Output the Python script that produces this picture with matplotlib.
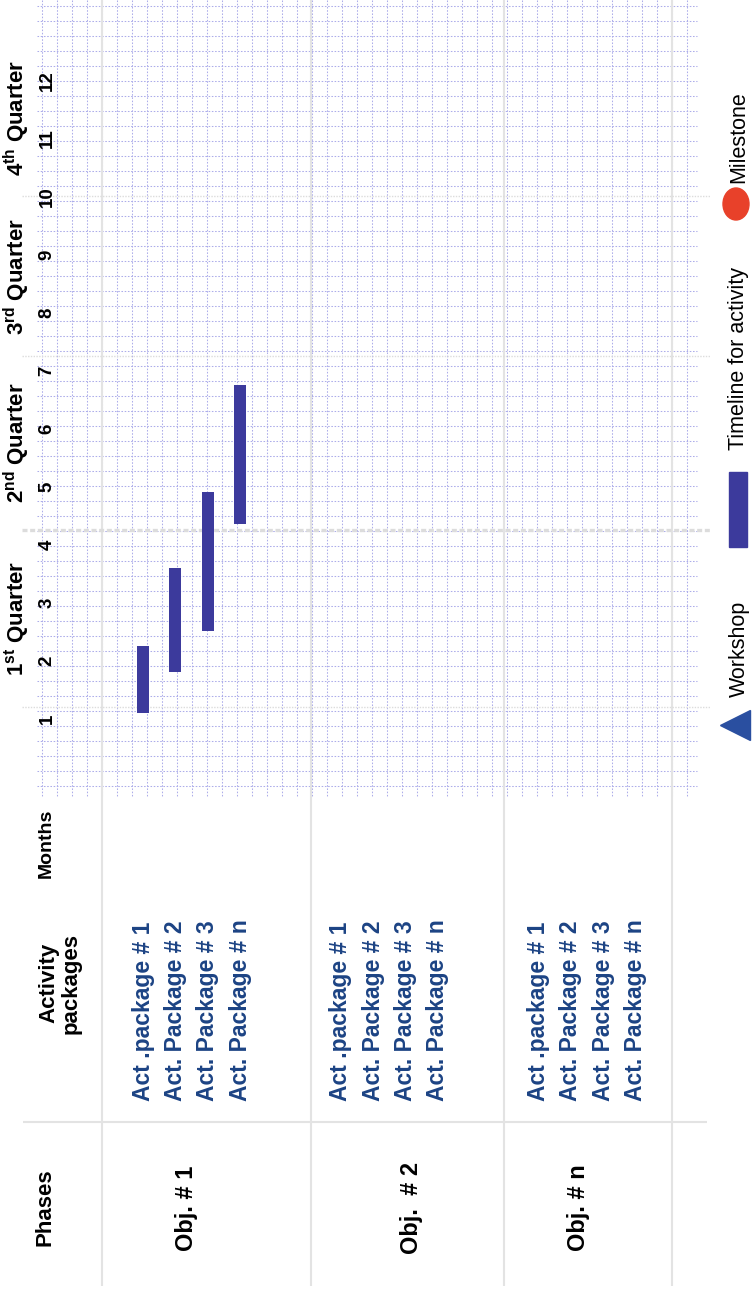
import numpy as np
import matplotlib
matplotlib.use("Agg")
import matplotlib.pyplot as plt
from matplotlib.patches import Rectangle, Ellipse
from matplotlib.transforms import blended_transform_factory

plt.rcParams['font.family'] = ['Liberation Sans', 'DejaVu Sans']
plt.rcParams['mathtext.fontset'] = 'custom'
plt.rcParams['mathtext.bf'] = 'Liberation Sans:bold'
plt.rcParams['mathtext.rm'] = 'Liberation Sans'

# --- data ---
months = list(range(1, 13))
quarter_names = [r"1$^{\mathbf{st}}$ Quarter", r"2$^{\mathbf{nd}}$ Quarter",
                 r"3$^{\mathbf{rd}}$ Quarter", r"4$^{\mathbf{th}}$ Quarter"]
quarter_starts = [1.2, 4.25, 7.25, 10.0]
quarter_end = 12.7

phases = ["Obj. # 1", "Obj.  # 2", "Obj. # n"]
packages = ["Act .package # 1", "Act. Package # 2", "Act. Package # 3", "Act. Package # n"]

# timeline of the activity packages of the first objective (in months)
act_start = [1.1, 1.8, 2.5, 4.35]
act_end = [2.25, 3.6, 4.9, 6.75]

legend_labels = ["Workshop", "Timeline for activity", "Milestone"]

# --- colours ---
BAR = "#3c3a9c"
LABEL_BLUE = "#1c4384"
GRID = "#adadea"
RULE = "#e3e3e3"

W, H = 753, 1293
fig = plt.figure(figsize=(W / 100, H / 100), dpi=100)

# background axes in pixel units for the sheet layout
bg = fig.add_axes([0, 0, 1, 1])
bg.set_xlim(0, W)
bg.set_ylim(H, 0)
bg.axis("off")

# chart axes: x = activity row, y = month (drawn sideways)
ax = fig.add_axes([0, 0, 1, 1])
ax.set_xlim(-4.414, 18.827)
ax.set_ylim(-8.907, 13.386)
ax.axis("off")
ax.patch.set_alpha(0)

row_of_month = blended_transform_factory(bg.transData, ax.transData)
row_on_sheet = blended_transform_factory(ax.transData, bg.transData)

# graph paper
bg.hlines(np.arange(6, 787, 15), 37, 697, colors=GRID, lw=0.75,
          linestyles=(0, (1.5, 1.6)), zorder=0)
bg.vlines(np.arange(41.7, 690, 15), 0, 797, colors=GRID, lw=0.75,
          linestyles=(0, (1.5, 1.6)), zorder=0)

# table rules
bg.vlines([101.7, 311, 504, 672], 0, 1286, colors=RULE, lw=1.5, zorder=1)
bg.hlines([1122], 23, 707, colors=RULE, lw=1.5, zorder=1)

# quarter separators
for i, q in enumerate(quarter_starts):
    lw, ls = (2.4, (0, (1.5, 0.8))) if i == 1 else (1.0, (0, (1, 1)))
    ax.plot([22, 710], [q, q], color="#dcdcdc", lw=lw, ls=ls,
            transform=row_of_month, zorder=1)

# quarter and month labels
bounds = quarter_starts + [quarter_end]
for i, name in enumerate(quarter_names):
    mid = (bounds[i] + bounds[i + 1]) / 2
    ax.text(17, mid, name, transform=row_of_month, rotation=90,
            ha="center", va="center", fontsize=16, fontweight="bold")
for m in months:
    ax.text(47, m, str(m), transform=row_of_month, rotation=90,
            ha="center", va="center", fontsize=13.5, fontweight="bold")

# activity bars for Obj. # 1
rows = np.arange(len(packages))
ax.bar(rows, np.array(act_end) - np.array(act_start), bottom=act_start,
       width=0.37, color=BAR, zorder=3)

# header cells
bg.text(46, 843, "Months", rotation=90, ha="center", va="center",
        fontsize=14, fontweight="bold")
bg.text(60, 983, "Activity\npackages", rotation=90, ha="center", va="center",
        multialignment="center", fontsize=16, fontweight="bold", linespacing=1.1)
bg.text(45, 1207, "Phases", rotation=90, ha="center", va="center",
        fontsize=16, fontweight="bold")

# phase names and their activity packages
group_gap = 6.1
phase_x = [187, 412, 579]
for g, name in enumerate(phases):
    bg.text(phase_x[g], 1208, name, rotation=90, ha="center", va="center",
            fontsize=17, fontweight="bold")
    for i, pkg in enumerate(packages):
        ax.text(g * group_gap + i, 1101, pkg, transform=row_on_sheet,
                rotation=90, rotation_mode="anchor", ha="left", va="center",
                fontsize=16.5, fontweight="bold", color=LABEL_BLUE)

# legend
bg.plot([735], [725], marker="<", ms=22, color="#2a4fa0", ls="none", zorder=4)
bg.add_patch(Rectangle((729, 472), 18, 75, color=BAR, zorder=4))
bg.add_patch(Ellipse((736, 204), 26, 32, color="#e8412a", zorder=4))
legend_start = [697, 450, 183]
for label, y0 in zip(legend_labels, legend_start):
    bg.text(739, y0, label, rotation=90, rotation_mode="anchor",
            ha="left", va="center", fontsize=15.5)

fig.savefig("out.png", dpi=100)
